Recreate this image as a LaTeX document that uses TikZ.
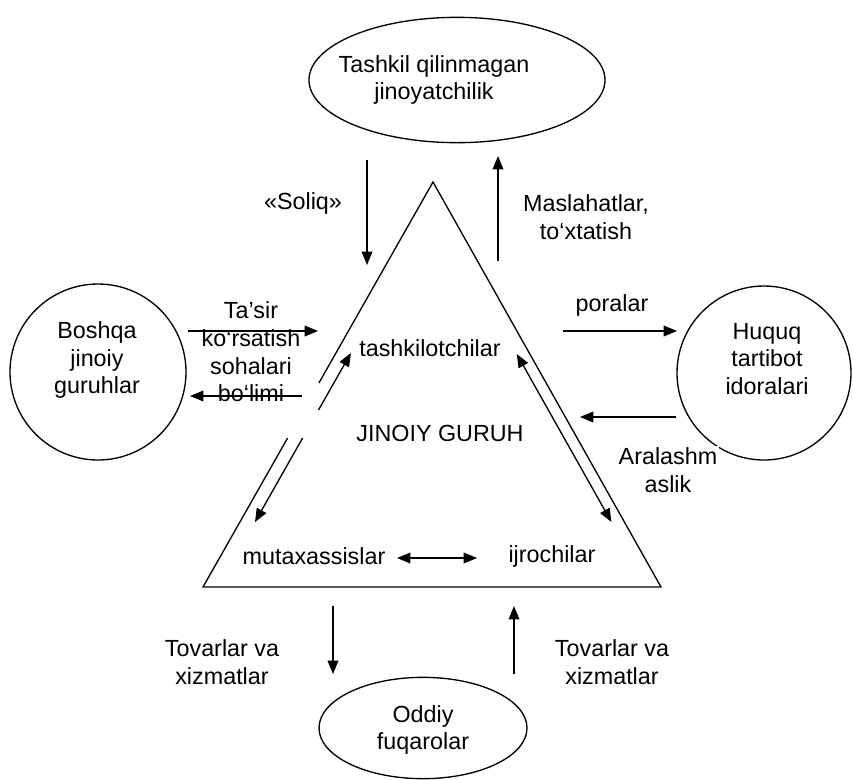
\documentclass[tikz,border=0pt]{standalone}
\usepackage{fontspec}
\setmainfont{Liberation Sans}
\usetikzlibrary{arrows.meta,shapes.geometric}
\begin{document}
\begin{tikzpicture}[x=0.75pt,y=-0.75pt,
  every node/.style={font=\fontsize{17.5}{20.8}\selectfont, align=center, inner sep=0pt},
  lbl/.style={},
  shp/.style={draw, line width=1pt},
  arr/.style={line width=1pt, -{Triangle[length=10pt,width=8pt]}},
  darr/.style={line width=1pt, {Triangle[length=10pt,width=8pt]}-{Triangle[length=10pt,width=8pt]}}]
\useasboundingbox (0,0) rectangle (853,779);

% outer shapes
\node[shp, ellipse, minimum width=222pt, minimum height=94pt] (top) at (457,80) {};
\node[lbl] (toptxt) at (434,80) {Tashkil qilinmagan\\jinoyatchilik};
\node[shp, circle, minimum size=132pt] (left) at (98,372) {};
\node[lbl] (lefttxt) at (97,360) {Boshqa\\jinoiy\\guruhlar};
\node[shp, circle, minimum size=130.5pt] (right) at (764,373) {};
\node[lbl] (righttxt) at (767,359) {Huquq\\tartibot\\idoralari};
\node[shp, ellipse, minimum width=156pt, minimum height=76pt] (bot) at (423,728) {};
\node[lbl] (bottxt) at (423,730) {Oddiy\\fuqarolar};

% triangle
\coordinate (A) at (433,182);
\coordinate (B) at (203,587);
\coordinate (C) at (661,587);
\coordinate (g1) at (318.9,383);
\coordinate (g2) at (287.6,438);
\draw[line width=1pt] (g1) -- (A) -- (C) -- (B) -- (g2);

% inner labels
\node[lbl] (tash) at (430,348) {tashkilotchilar};
\node[lbl] (jg) at (440,433) {JINOIY GURUH};
\node[lbl] (mut) at (314,556) {mutaxassislar};
\node[lbl] (ijr) at (552,556) {ijrochilar};
\coordinate (m1) at (397,558);
\coordinate (m2) at (477,558);
\draw[darr] (m1) -- (m2);

% inner side arrows
\coordinate (lu1) at (318.5,410);
\coordinate (lu2) at (350.9,353);
\draw[arr] (lu1) -- (lu2);
\coordinate (ld1) at (302.6,438);
\coordinate (ld2) at (255,522);
\draw[arr] (ld1) -- (ld2);
\coordinate (r1) at (516.8,354);
\coordinate (r2) at (611.4,522);
\draw[darr] (r1) -- (r2);

% top arrows
\node[lbl] (soliq) at (303,203) {«Soliq»};
\coordinate (s1) at (367,160);
\coordinate (s2) at (367,265);
\draw[arr] (s1) -- (s2);
\node[lbl] (masl) at (586,217) {Maslahatlar,\\to‘xtatish};
\coordinate (q1) at (498,261);
\coordinate (q2) at (498,156);
\draw[arr] (q1) -- (q2);

% left arrows
\node[lbl] (tasir) at (251,352) {Ta’sir\\ko‘rsatish\\sohalari\\bo‘limi};
\coordinate (t1) at (188,331);
\coordinate (t2) at (318,331);
\draw[arr] (t1) -- (t2);
\coordinate (t3) at (302,396);
\coordinate (t4) at (190,396);
\draw[arr] (t3) -- (t4);

% right arrows
\node[lbl] (poralar) at (612,305) {poralar};
\coordinate (p1) at (563,331);
\coordinate (p2) at (677,331);
\draw[arr] (p1) -- (p2);
\coordinate (p3) at (676,417);
\coordinate (p4) at (580,417);
\draw[arr] (p3) -- (p4);
\node[lbl, fill=white, inner sep=1pt] (aral) at (668,470) {Aralashm\\aslik};

% bottom arrows
\node[lbl] (tov1) at (222,662) {Tovarlar va\\xizmatlar};
\coordinate (b1) at (333,606);
\coordinate (b2) at (333,674);
\draw[arr] (b1) -- (b2);
\node[lbl] (tov2) at (612,662) {Tovarlar va\\xizmatlar};
\coordinate (b3) at (514,674);
\coordinate (b4) at (514,606);
\draw[arr] (b3) -- (b4);
\end{tikzpicture}
\end{document}
